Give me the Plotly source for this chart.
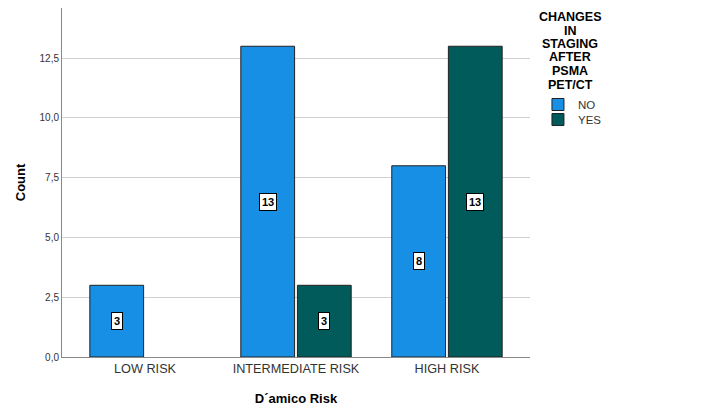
import plotly.graph_objects as go

categories = ["LOW RISK", "INTERMEDIATE RISK", "HIGH RISK"]
no_values = [3, 13, 8]
yes_values = [None, 3, 13]
series_names = ["NO", "YES"]
legend_title_lines = ["CHANGES", "IN", "STAGING", "AFTER", "PSMA", "PET/CT"]
y_ticks = [0, 2.5, 5, 7.5, 10, 12.5]

colors = ["#168FE4", "#015B5B"]
legends = ["legend", "legend2"]

fig = go.Figure()
for name, vals, col, lg in zip(series_names, [no_values, yes_values], colors, legends):
    fig.add_trace(go.Bar(
        x=categories, y=vals, name=name, legend=lg,
        marker=dict(color=col, line=dict(color="#222222", width=1)),
    ))

# value labels (boxed), centered on each bar
shift = 28
for vals, xs in [(no_values, -shift), (yes_values, shift)]:
    for c, v in zip(categories, vals):
        if v is None:
            continue
        fig.add_annotation(
            x=c, y=v / 2, text="<b>%d</b>" % v, showarrow=False, xshift=xs,
            font=dict(family="Liberation Sans, Arial", size=11, color="black"),
            bgcolor="white", bordercolor="black", borderwidth=1, borderpad=2,
        )

# legend title (centered block, tight line spacing)
title_y = [0.9742, 0.9355, 0.8968, 0.8582, 0.8195, 0.7808]
for line, yy in zip(legend_title_lines, title_y):
    fig.add_annotation(
        xref="paper", yref="paper", x=1.0855, y=yy, xanchor="center", yanchor="middle",
        text="<b>" + line + "</b>", showarrow=False, borderpad=0,
        font=dict(family="Liberation Sans, Arial", size=12.5, color="black"),
    )

legend_common = dict(x=1.017, xanchor="left", yanchor="top", bgcolor="rgba(0,0,0,0)",
                     font=dict(size=11.5, color="#333333"), itemwidth=30)

fig.update_layout(
    width=700, height=408,
    margin=dict(l=54, r=178, t=0, b=59),
    paper_bgcolor="white", plot_bgcolor="white",
    separators=",.",
    barmode="group", bargap=0.25, bargroupgap=0.05,
    font=dict(family="Liberation Sans, Arial", color="#222222"),
    showlegend=True,
    legend=dict(y=0.765, **legend_common),
    legend2=dict(y=0.722, **legend_common),
    xaxis=dict(
        range=[-0.55, 2.55],
        showline=True, linecolor="#888888", linewidth=1,
        ticks="", tickfont=dict(size=12.7, color="#333333"),
        title=dict(text="<b>D´amico Risk</b>", font=dict(size=13, color="black"), standoff=18),
    ),
    yaxis=dict(
        range=[0, 14.6],
        tickvals=y_ticks, tickformat=".1f",
        showgrid=True, gridcolor="#D0D0D0", gridwidth=1,
        showline=True, linecolor="#888888", linewidth=1,
        zeroline=False, ticks="",
        tickfont=dict(size=10, color="#333333"),
        title=dict(text="<b>Count</b>", font=dict(size=13, color="black"), standoff=10),
    ),
)

fig.write_html("out.html")
